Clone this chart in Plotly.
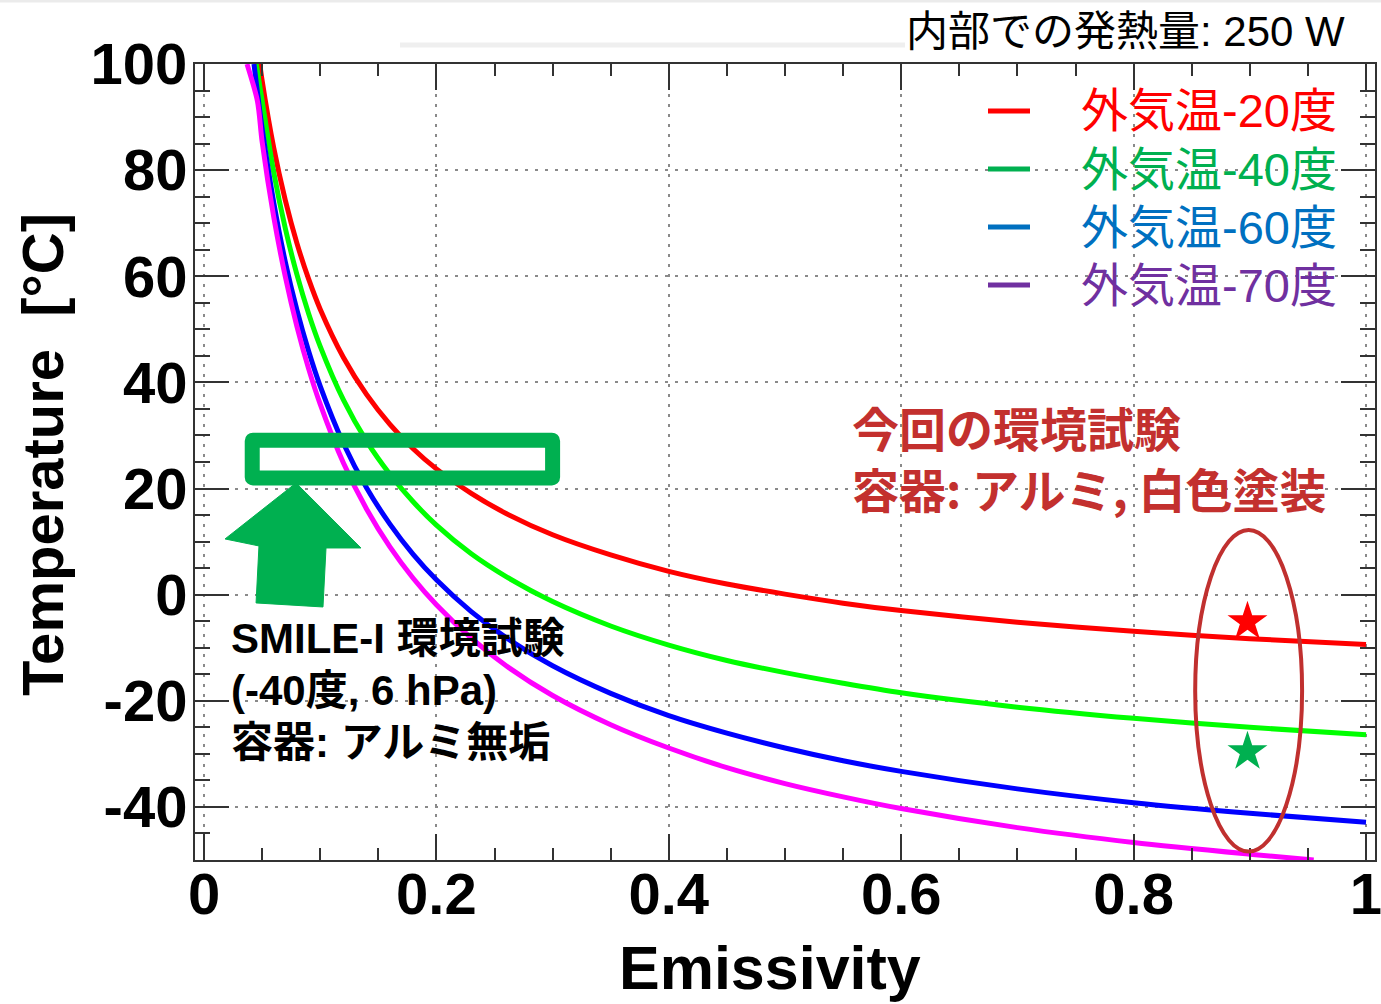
import plotly.graph_objects as go

# ---- equilibrium temperature vs. emissivity (internal heat 250 W) ----
eps_m20 = [0.048, 0.05, 0.06, 0.07, 0.08, 0.09, 0.10, 0.12, 0.14, 0.16, 0.18, 0.20,
           0.23, 0.26, 0.30, 0.35, 0.40, 0.45, 0.50, 0.55, 0.60, 0.70, 0.80, 0.90, 1.00]
temp_m20 = [100, 96.9, 84.2, 74.3, 66.2, 59.5, 53.8, 44.7, 37.7, 32.1, 27.5, 23.7,
            19.1, 15.3, 11.3, 7.5, 4.4, 2.0, 0.1, -1.6, -3.0, -5.2, -6.9, -8.3, -9.4]

eps_m40 = [0.045, 0.05, 0.06, 0.07, 0.08, 0.09, 0.10, 0.12, 0.14, 0.16, 0.18, 0.20,
           0.23, 0.26, 0.30, 0.35, 0.40, 0.45, 0.50, 0.55, 0.60, 0.70, 0.80, 0.90, 1.00]
temp_m40 = [100, 93.1, 79.6, 69.0, 60.3, 53.0, 46.8, 36.7, 28.9, 22.7, 17.5, 13.1,
            7.7, 3.4, -1.3, -5.9, -9.5, -12.4, -14.7, -16.7, -18.5, -21.2, -23.3, -25.0, -26.4]

eps_m60 = [0.043, 0.05, 0.06, 0.07, 0.08, 0.09, 0.10, 0.12, 0.14, 0.16, 0.18, 0.20,
           0.23, 0.26, 0.30, 0.35, 0.40, 0.45, 0.50, 0.55, 0.60, 0.70, 0.80, 0.90, 1.00]
temp_m60 = [100, 87.9, 73.9, 62.7, 53.6, 45.9, 39.3, 28.5, 20.1, 13.3, 7.6, 2.8,
            -3.2, -8.1, -13.4, -18.6, -22.8, -26.1, -28.9, -31.3, -33.3, -36.6, -39.2, -41.2, -42.9]

eps_m70 = [0.037, 0.046, 0.05, 0.06, 0.07, 0.08, 0.09, 0.10, 0.12, 0.14, 0.16, 0.18, 0.20,
           0.23, 0.26, 0.30, 0.35, 0.40, 0.45, 0.50, 0.55, 0.60, 0.70, 0.80, 0.90, 0.955]
temp_m70 = [100, 93.0, 85.4, 71.2, 59.9, 50.5, 42.6, 35.9, 24.8, 16.1, 9.0, 3.1, -1.9,
            -8.2, -13.4, -19.0, -24.5, -28.9, -32.6, -35.6, -38.1, -40.3, -43.9, -46.7, -48.9, -50.0]

# measured points of the current environmental test
test_eps = [0.898, 0.898]
test_temp = [-5.1, -29.6]
test_colors = ["#ff0000", "#00b050"]

# legend entries (label, swatch colour)
legend_labels = ["外気温-20度", "外気温-40度", "外気温-60度", "外気温-70度"]
legend_colors = ["#ff0000", "#00b050", "#0070c0", "#7030a0"]

# axis ticks
x_ticks = [0, 0.2, 0.4, 0.6, 0.8, 1]
x_tick_text = ["0", "0.2", "0.4", "0.6", "0.8", "1"]
y_ticks = [-40, -20, 0, 20, 40, 60, 80, 100]
y_tick_text = ["-40", "-20", "0", "20", "40", "60", "80", "100"]

W, H = 1381, 1004
ML, MR, MT, MB = 195, 6, 64, 144
PW, PH = W - ML - MR, H - MT - MB


def px(xp):
    """canvas x pixel -> paper coordinate"""
    return (xp - ML) / PW


def py(yp):
    """canvas y pixel -> paper coordinate"""
    return (H - MB - yp) / PH


LATIN = "Liberation Sans, Arial, Helvetica, sans-serif"
MIXED = "Liberation Sans, Noto Sans CJK JP, sans-serif"
CJK_ONLY = "Noto Sans CJK JP, sans-serif"

fig = go.Figure()

curves = [
    (eps_m20, temp_m20, "#ff0000"),
    (eps_m40, temp_m40, "#00ff00"),
    (eps_m60, temp_m60, "#0000ff"),
    (eps_m70, temp_m70, "#ff00ff"),
]
for ex, ty, col in curves:
    fig.add_trace(go.Scatter(x=ex, y=ty, mode="lines",
                             line=dict(color=col, width=5, shape="spline", smoothing=0.8),
                             showlegend=False, hoverinfo="skip"))

fig.add_trace(go.Scatter(x=test_eps, y=test_temp, mode="markers",
                         marker=dict(symbol="star", size=30, color=test_colors,
                                     line=dict(width=0)),
                         showlegend=False, hoverinfo="skip"))

shapes = []
# highlighted temperature band of the SMILE-I test (slightly rounded corners)
bx0, bx1, by0, by1 = 0.0415, 0.3, 22.0, 29.1
rdx, rdy = 0.0006, 0.12
box_path = (f"M {bx0 + rdx} {by1} L {bx1 - rdx} {by1} Q {bx1} {by1} {bx1} {by1 - rdy} "
            f"L {bx1} {by0 + rdy} Q {bx1} {by0} {bx1 - rdx} {by0} "
            f"L {bx0 + rdx} {by0} Q {bx0} {by0} {bx0} {by0 + rdy} "
            f"L {bx0} {by1 - rdy} Q {bx0} {by1} {bx0 + rdx} {by1} Z")
shapes.append(dict(type="path", xref="x", yref="y", path=box_path,
                   line=dict(color="#00b050", width=15), layer="above"))
# block arrow pointing at the band
arrow_path = ("M 0.0792 21.05 L 0.1351 8.8 L 0.1050 8.8 L 0.1024 -2.32 "
              "L 0.0448 -1.56 L 0.0473 9.18 L 0.0181 10.5 Z")
shapes.append(dict(type="path", xref="x", yref="y", path=arrow_path,
                   fillcolor="#00b050", line=dict(color="#00b050", width=1), layer="above"))
# ellipse around the test points
shapes.append(dict(type="circle", xref="x", yref="y", x0=0.853, x1=0.945, y0=-48.4, y1=12.2,
                   line=dict(color="#c0302f", width=4), layer="above"))
# legend swatches
for i, col in enumerate(legend_colors):
    yy = 111 + 58 * i
    shapes.append(dict(type="line", xref="paper", yref="paper",
                       x0=px(988), x1=px(1030), y0=py(yy), y1=py(yy),
                       line=dict(color=col, width=5)))
# faint slide rules at the top
shapes.append(dict(type="line", xref="paper", yref="paper", x0=px(400), x1=px(905),
                   y0=py(45), y1=py(45), line=dict(color="#efefef", width=5)))
shapes.append(dict(type="line", xref="paper", yref="paper", x0=px(0), x1=px(W),
                   y0=py(1), y1=py(1), line=dict(color="#ebebeb", width=3)))

ann = []
ann.append(dict(text="内部での発熱量: 250 W", x=px(1347), y=py(31), xanchor="right",
                yanchor="middle", font=dict(family=MIXED, size=42, color="black")))
for i, (lab, col) in enumerate(zip(legend_labels, legend_colors)):
    ann.append(dict(text=lab, x=px(1339), y=py(111 + 58 * i), xanchor="right", yanchor="middle",
                    font=dict(family=MIXED, size=47, color=col)))
ann.append(dict(text="今回の環境試験<br>容器: アルミ, 白色塗装", x=px(850), y=py(457),
                xanchor="left", yanchor="middle", align="left",
                font=dict(family=CJK_ONLY, size=47, color="#c3302e", weight="bold")))
for i, line in enumerate(["SMILE-I 環境試験", "(-40度, 6 hPa)", "容器: アルミ無垢"]):
    ann.append(dict(text=line, x=px(229), y=py(638 + 52 * i), xanchor="left", yanchor="middle",
                    font=dict(family=MIXED, size=42, color="black", weight="bold")))
# axis titles
ann.append(dict(text="Temperature  [°C]", x=px(42), y=py(455), xanchor="center",
                yanchor="middle", textangle=-90,
                font=dict(family=LATIN, size=58, color="black", weight="bold")))
ann.append(dict(text="Emissivity", x=px(770), y=py(968), xanchor="center", yanchor="middle",
                font=dict(family=LATIN, size=61, color="black", weight="bold")))
for a in ann:
    a.update(xref="paper", yref="paper", showarrow=False)

axis_common = dict(showline=True, linecolor="#333333", linewidth=2, mirror="ticks",
                   ticks="inside", tickcolor="#333333", tickwidth=2,
                   showgrid=True, gridcolor="#8a8a8a", gridwidth=2, griddash="3px,7px",
                   zeroline=False, ticklabeloverflow="allow",
                   tickfont=dict(family=LATIN, size=58, color="black", weight="bold"))

fig.update_xaxes(range=[-0.00775, 1.00775], tickmode="array", tickvals=x_ticks,
                 ticktext=x_tick_text, ticklen=26, ticklabelstandoff=-18,
                 minor=dict(dtick=0.05, tick0=0, ticklen=12, ticks="inside",
                            tickcolor="#333333", tickwidth=2, showgrid=False),
                 **axis_common)
fig.update_yaxes(range=[-50, 100], tickmode="array", tickvals=y_ticks,
                 ticktext=y_tick_text, ticklen=34, ticklabelstandoff=-6,
                 minor=dict(dtick=5, tick0=0, ticklen=15, ticks="inside",
                            tickcolor="#333333", tickwidth=2, showgrid=False),
                 **axis_common)

fig.update_layout(width=W, height=H, margin=dict(l=ML, r=MR, t=MT, b=MB, autoexpand=False),
                  paper_bgcolor="white", plot_bgcolor="white",
                  shapes=shapes, annotations=ann, showlegend=False)

fig.write_html("out.html")
